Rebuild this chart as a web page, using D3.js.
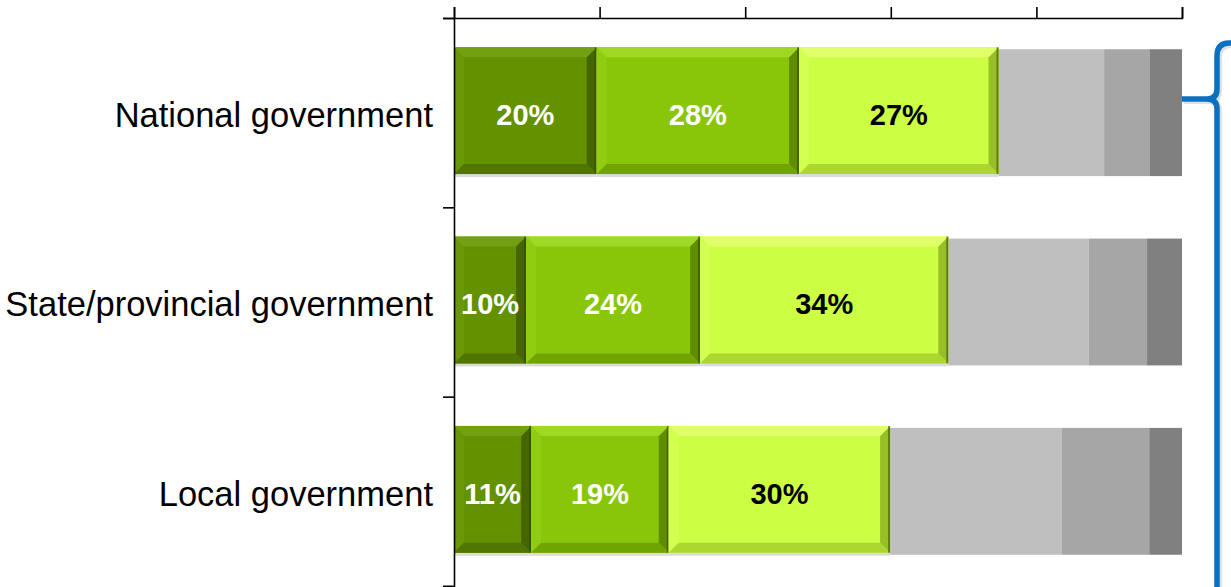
<!DOCTYPE html>
<html lang="en">
  <head>
    <meta charset="utf-8">
    <title>Government levels</title>
    <script src="https://cdn.jsdelivr.net/npm/d3@7/dist/d3.min.js"></script>
    <style>
      body { margin: 0; background: #fff; }
      text { font-family: "Liberation Sans", Arial, sans-serif; }
    </style>
  </head>
  <body>
    <script type="text/javascript">

      // categories top to bottom
      var categories = ["National government", "State/provincial government", "Local government"];

      // segment shares in % (three greens then three greys)
      var seriesGreen1 = [19.6, 9.9, 10.6];
      var seriesGreen2 = [27.8, 23.9, 18.9];
      var seriesGreen3 = [27.4, 34.1, 30.4];
      var seriesGrey1  = [14.5, 19.3, 23.6];
      var seriesGrey2  = [6.3, 8.0, 12.0];
      var seriesGrey3  = [4.4, 4.8, 4.5];

      var xTicks = [0, 20, 40, 60, 80, 100];

      var W = 1231, H = 587;
      var x0 = 454, x1 = 1182, yTop = 18, yBot = 586;

      var series = [
        {vals: seriesGreen1, body: "#639100", top: "#73a012", bot: "#507500", left: "#6a9808", right: "#456500", label: "#fff", bevel: true},
        {vals: seriesGreen2, body: "#89c60a", top: "#a0d826", bot: "#70a400", left: "#90cc12", right: "#608d00", label: "#fff", bevel: true},
        {vals: seriesGreen3, body: "#ccff44", top: "#e0ff6a", bot: "#acd630", left: "#d2ff50", right: "#98c026", label: "#000", bevel: true},
        {vals: seriesGrey1, body: "#bfbfbf", bevel: false},
        {vals: seriesGrey2, body: "#a6a6a6", bevel: false},
        {vals: seriesGrey3, body: "#808080", bevel: false}
      ];

      var x = d3.scaleLinear().domain([0, 100]).range([x0, x1]);
      var y = d3.scaleBand().domain(categories).range([yTop, yBot]).paddingInner(0.33).paddingOuter(0.165);
      var yEdge = d3.scaleLinear().domain([0, categories.length]).range([yTop, yBot]);

      var svg = d3.select("body").append("svg")
          .attr("width", W)
          .attr("height", H);

      var segs = [];
      categories.forEach(function(c, i) {
        var acc = 0;
        series.forEach(function(s) {
          segs.push({cat: c, s: s, v: s.vals[i], a: acc, b: acc + s.vals[i]});
          acc += s.vals[i];
        });
      });

      var bw = y.bandwidth();
      var bev = 10;
      function by0(d) { return y(d.cat) - 2; }

      var g = svg.append("g");

      // grey segments (flat)
      g.selectAll(".grey")
          .data(segs.filter(function(d) { return !d.s.bevel; }))
        .enter().append("rect")
          .attr("x", function(d) { return x(d.a); })
          .attr("y", function(d) { return by0(d) + 2; })
          .attr("width", function(d) { return x(d.b) - x(d.a); })
          .attr("height", bw)
          .attr("fill", function(d) { return d.s.body; });

      // green segments with bevel
      var greens = segs.filter(function(d) { return d.s.bevel; });
      var gg = g.selectAll(".green").data(greens).enter().append("g");

      gg.append("rect")
          .attr("x", function(d) { return x(d.a); })
          .attr("y", function(d) { return by0(d) + 3; })
          .attr("width", function(d) { return x(d.b) - x(d.a); })
          .attr("height", bw)
          .attr("fill", "#dcdcdc");

      gg.append("rect")
          .attr("x", function(d) { return x(d.a); })
          .attr("y", function(d) { return by0(d); })
          .attr("width", function(d) { return x(d.b) - x(d.a); })
          .attr("height", bw)
          .attr("fill", function(d) { return d.s.body; });

      function poly(d, side) {
        var l = x(d.a), r = x(d.b), t = by0(d), b = t + bw;
        var p;
        if (side == "top") p = [[l, t], [r, t], [r - bev, t + bev], [l + bev, t + bev]];
        if (side == "bot") p = [[l, b], [r, b], [r - bev, b - bev], [l + bev, b - bev]];
        if (side == "left") p = [[l, t], [l + bev, t + bev], [l + bev, b - bev], [l, b]];
        if (side == "right") p = [[r, t], [r - bev, t + bev], [r - bev, b - bev], [r, b]];
        return p.map(function(q) { return q.join(","); }).join(" ");
      }

      ["left", "right", "top", "bot"].forEach(function(side) {
        gg.append("polygon")
            .attr("points", function(d) { return poly(d, side); })
            .attr("fill", function(d) { return d.s[side]; });
      });

      // dark edge between segments
      gg.append("line")
          .attr("x1", function(d) { return x(d.b) - 1; })
          .attr("x2", function(d) { return x(d.b) - 1; })
          .attr("y1", function(d) { return by0(d); })
          .attr("y2", function(d) { return by0(d) + bw; })
          .attr("stroke", "#2e4400")
          .attr("stroke-opacity", 0.55)
          .attr("stroke-width", 2);

      gg.append("text")
          .attr("x", function(d) { return (x(d.a) + x(d.b)) / 2; })
          .attr("y", function(d) { return y(d.cat) + bw / 2 + 2; })
          .attr("dy", "0.36em")
          .attr("text-anchor", "middle")
          .style("font-size", "29px")
          .style("font-weight", "bold")
          .attr("fill", function(d) { return d.s.label; })
          .text(function(d) { return Math.round(d.v) + "%"; });

      // axes
      var xAxis = d3.axisTop(x)
          .tickValues(xTicks)
          .tickSize(11)
          .tickFormat("");

      var yAxis = d3.axisLeft(yEdge)
          .tickValues(d3.range(categories.length + 1))
          .tickSize(11)
          .tickFormat("");

      svg.append("g")
          .attr("transform", "translate(0," + yTop + ")")
          .call(xAxis)
          .call(function(a) { a.selectAll("path, line").attr("stroke", "#000").attr("stroke-width", 1.6); });

      svg.append("g")
          .attr("transform", "translate(" + x0 + ",0)")
          .call(yAxis)
          .call(function(a) { a.selectAll("path, line").attr("stroke", "#000").attr("stroke-width", 1.6); });

      // category labels
      svg.selectAll(".cat")
          .data(categories)
        .enter().append("text")
          .attr("x", x0 - 21)
          .attr("y", function(d) { return y(d) + bw / 2 + 2; })
          .attr("dy", "0.36em")
          .attr("text-anchor", "end")
          .style("font-size", "34.5px")
          .attr("fill", "#000")
          .text(function(d) { return d; });

      // blue brace on the right
      var bx = x1 + 35, byc = 99;
      var brace = "M" + x1 + "," + byc + " H" + (bx - 10) +
          " Q" + bx + "," + byc + " " + bx + "," + (byc - 10) +
          " V" + 56 + " Q" + bx + "," + 43 + " " + (bx + 12) + "," + 43 + " H" + (W + 10) +
          " M" + (bx - 10) + "," + byc + " Q" + bx + "," + byc + " " + bx + "," + (byc + 10) +
          " V" + (H + 10);

      svg.append("path")
          .attr("d", brace)
          .attr("transform", "translate(2,2)")
          .attr("fill", "none")
          .attr("stroke", "#000")
          .attr("stroke-opacity", 0.12)
          .attr("stroke-width", 6);

      svg.append("path")
          .attr("d", brace)
          .attr("fill", "none")
          .attr("stroke", "#0a70c0")
          .attr("stroke-width", 5.5);

    </script>
  </body>
</html>
